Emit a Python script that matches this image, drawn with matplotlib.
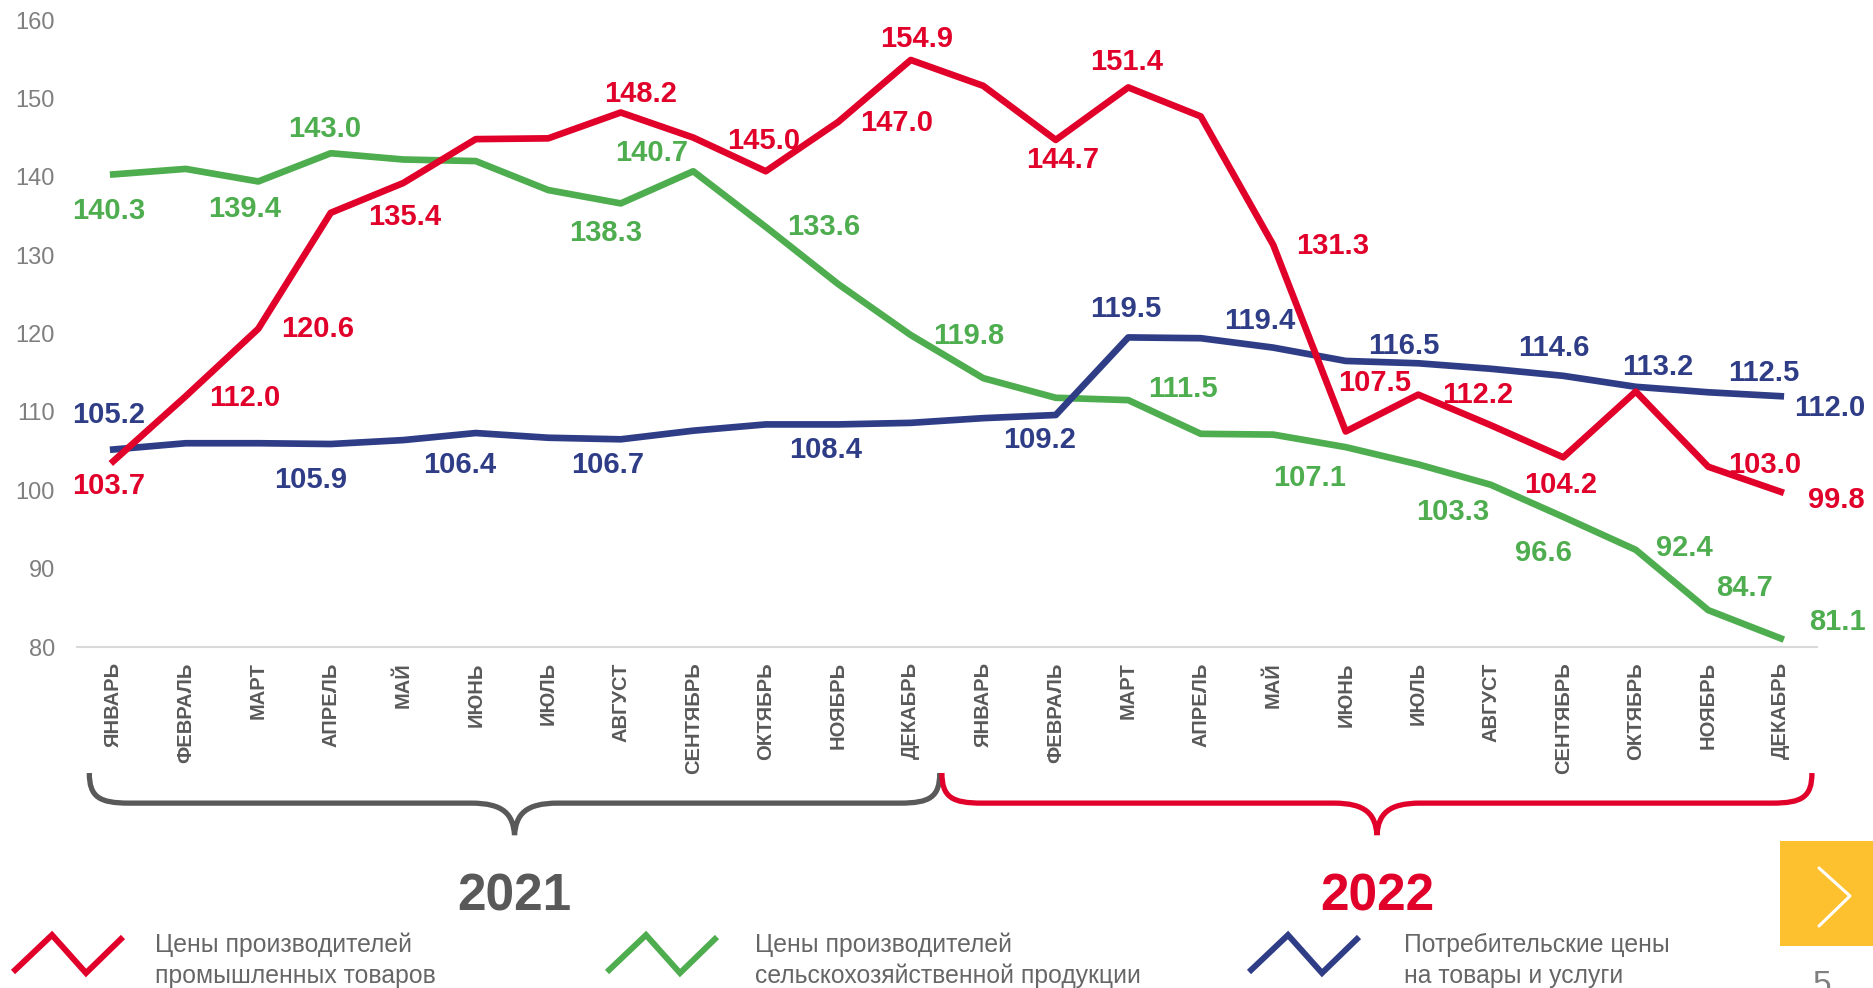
import matplotlib
matplotlib.use("Agg")
import matplotlib.pyplot as plt
import matplotlib.transforms as mtransforms
from matplotlib.path import Path
from matplotlib.patches import PathPatch, Rectangle

plt.rcParams["font.family"] = ["Liberation Sans", "DejaVu Sans"]

# --- data -------------------------------------------------------------
months = ["ЯНВАРЬ", "ФЕВРАЛЬ", "МАРТ", "АПРЕЛЬ", "МАЙ", "ИЮНЬ", "ИЮЛЬ",
          "АВГУСТ", "СЕНТЯБРЬ", "ОКТЯБРЬ", "НОЯБРЬ", "ДЕКАБРЬ"]
categories = months + months
years = ["2021", "2022"]

industrial = [103.7, 112.0, 120.6, 135.4, 139.2, 144.8, 144.9, 148.2, 145.0, 140.7, 147.0, 154.9,
              151.6, 144.7, 151.4, 147.7, 131.3, 107.5, 112.2, 108.3, 104.2, 112.6, 103.0, 99.8]
agricultural = [140.3, 141.0, 139.4, 143.0, 142.2, 142.0, 138.3, 136.6, 140.7, 133.6, 126.3, 119.8,
                114.3, 111.8, 111.5, 107.2, 107.1, 105.5, 103.3, 100.7, 96.6, 92.4, 84.7, 81.1]
consumer = [105.2, 106.0, 106.0, 105.9, 106.4, 107.3, 106.7, 106.5, 107.6, 108.4, 108.4, 108.6,
            109.2, 109.6, 119.5, 119.4, 118.2, 116.5, 116.2, 115.5, 114.6, 113.2, 112.5, 112.0]

legend_labels = ["Цены производителей\nпромышленных товаров",
                 "Цены производителей\nсельскохозяйственной продукции",
                 "Потребительские цены\nна товары и услуги"]

# which points carry a value label, and where the label sits (pixels: right, down)
industrial_lbl = {0: (-5, 25), 1: (59, 2), 2: (59, 0), 3: (74, 4), 7: (20, -18),
                  8: (70, 3), 10: (58, 1), 11: (6, -21), 13: (7, 20), 14: (-2, -25),
                  16: (59, 1), 17: (29, -48), 18: (59, 0), 20: (-3, 28), 22: (56, -2),
                  23: (56, 8)}
agricultural_lbl = {0: (-5, 37), 2: (-14, 28), 3: (-6, -24), 6: (57, 43), 8: (-42, -18),
                    9: (58, 0), 11: (58, 1), 14: (55, -11), 16: (36, 43), 18: (34, 48),
                    20: (-20, 36), 21: (49, -2), 22: (36, -22), 23: (57, -16)}
consumer_lbl = {0: (-5, -34), 3: (-20, 36), 4: (56, 25), 6: (59, 27), 9: (60, 26),
                12: (56, 22), 14: (-2, -28), 15: (59, -17), 17: (58, -15), 20: (-9, -28),
                21: (22, -20), 22: (56, -19), 23: (49, 12)}

RED = "#E1002A"
GREEN = "#4EAD4E"
BLUE = "#2F3D87"
GREY = "#595959"

W, H = 1874, 988
fig = plt.figure(figsize=(W / 100, H / 100), dpi=100)
ax = fig.add_axes([77 / W, 1 - 647 / H, (1817 - 77) / W, (647 - 20) / H])

x = list(range(len(categories)))
series = [(agricultural, GREEN, agricultural_lbl, 2),
          (consumer, BLUE, consumer_lbl, 3),
          (industrial, RED, industrial_lbl, 4)]
for vals, color, lbls, z in series:
    ax.plot(x, vals, color=color, lw=4.8, zorder=z, solid_joinstyle="round")
    for i, (dx, dy) in lbls.items():
        ax.annotate(f"{vals[i]:.1f}", xy=(i, vals[i]), xytext=(dx, -dy),
                    textcoords="offset pixels", ha="center", va="center",
                    color=color, fontsize=21, fontweight="bold", zorder=6)

ax.set_xlim(-0.5, len(categories) - 0.5)
ax.set_ylim(80, 160)
ax.set_yticks(range(80, 161, 10))
ax.set_xticks(x)
ax.set_xticklabels(categories, rotation=90, fontsize=14.5, fontweight="bold", color=GREY)
ax.tick_params(axis="x", length=0, pad=11)
ax.tick_params(axis="y", length=0, pad=16, labelsize=17, labelcolor="#7F7F7F")
for side in ["top", "right", "left"]:
    ax.spines[side].set_visible(False)
ax.spines["bottom"].set_color("#D9D9D9")
ax.spines["bottom"].set_linewidth(1.5)

# --- year braces under the month labels --------------------------------
trans = mtransforms.blended_transform_factory(ax.transData, ax.transAxes)


def draw_brace(x0, x1, color, label):
    ytop, yh, ytip = -0.201, -0.249, -0.300
    xm = (x0 + x1) / 2
    r, r2 = 0.55, 0.6
    verts = [(x0, ytop),
             (x0, ytop + 0.8 * (yh - ytop)), (x0 + 0.25 * r, yh), (x0 + r, yh),
             (xm - r2, yh),
             (xm - 0.25 * r2, yh), (xm - 0.02, yh + 0.35 * (ytip - yh)), (xm, ytip),
             (xm + 0.02, yh + 0.35 * (ytip - yh)), (xm + 0.25 * r2, yh), (xm + r2, yh),
             (x1 - r, yh),
             (x1 - 0.25 * r, yh), (x1, ytop + 0.8 * (yh - ytop)), (x1, ytop)]
    codes = ([Path.MOVETO] + [Path.CURVE4] * 3 + [Path.LINETO] + [Path.CURVE4] * 6
             + [Path.LINETO] + [Path.CURVE4] * 3)
    patch = PathPatch(Path(verts, codes), transform=trans, fill=False,
                      edgecolor=color, lw=3.8, clip_on=False, capstyle="butt")
    ax.add_patch(patch)
    ax.text(xm, -0.398, label, transform=trans, ha="center", va="center",
            fontsize=37, fontweight="bold", color=color)


draw_brace(-0.33, 11.4, GREY, years[0])
draw_brace(11.43, 23.43, RED, years[1])

# --- legend and page decorations (pixel overlay) ---------------------
lax = fig.add_axes([0, 0, 1, 1], zorder=-1)
lax.set_xlim(0, W)
lax.set_ylim(H, 0)
lax.axis("off")

zig_dx = [0, 39, 73, 110]
zig_dy = [37, 0, 38, 2]
for x0, tx, color, text in [(13, 155, RED, legend_labels[0]),
                            (607, 755, GREEN, legend_labels[1]),
                            (1249, 1404, BLUE, legend_labels[2])]:
    lax.plot([x0 + d for d in zig_dx], [935 + d for d in zig_dy], color=color,
             lw=4.3, solid_joinstyle="miter", solid_capstyle="butt")
    line1, line2 = text.split("\n")
    lax.text(tx, 945, line1, ha="left", va="center", fontsize=17.8, color="#666666")
    lax.text(tx, 976, line2, ha="left", va="center", fontsize=17.8, color="#666666")

lax.add_patch(Rectangle((1780, 841), 94, 105, color="#FDC12F", lw=0))
lax.plot([1819, 1850, 1819], [868, 896, 926], color="white", lw=2.2,
         solid_capstyle="round")
lax.text(1822, 970, "5", ha="center", va="top", fontsize=24, color="#7F7F7F")

fig.savefig("out.png", dpi=100)
